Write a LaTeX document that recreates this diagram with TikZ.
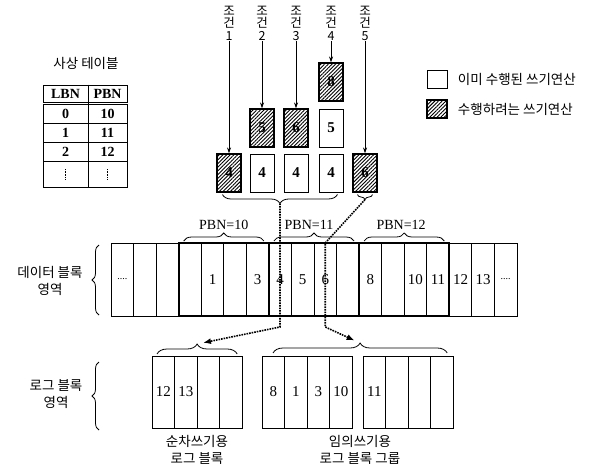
\documentclass[tikz,border=0pt]{standalone}
\usepackage{fontspec}
\setmainfont{Liberation Serif}
\newfontfamily\kr{Noto Sans CJK KR}
\usepackage{tikz}
\usetikzlibrary{arrows.meta,positioning,patterns.meta,decorations.pathreplacing}

\newcommand{\fourdots}{{\fontsize{10}{10}\selectfont ....}}

\tikzset{
  cell/.style={draw, line width=0.8pt, minimum width=22.55pt, minimum height=73pt,
    inner sep=0pt, outer sep=0pt, font=\fontsize{15}{15}\selectfont},
  logcell/.style={cell, minimum height=72pt},
  req/.style={draw, line width=0.9pt, minimum width=24pt, minimum height=38pt,
    inner sep=0pt, font=\bfseries\fontsize{15}{15}\selectfont},
  hatch/.style={req, line width=1.1pt, pattern={Lines[angle=45,distance=2.6pt,line width=0.9pt]}},
  tcell/.style={draw, line width=0.7pt, inner sep=0pt, minimum height=19pt,
    font=\bfseries\fontsize{14}{14}\selectfont},
  krtext/.style={font=\kr\fontsize{13.5}{16.5}\selectfont, align=center},
  cond/.style={font=\kr\fontsize{12.5}{12.5}\selectfont, align=center, inner sep=1pt},
  brc/.style={decorate, decoration={brace, amplitude=#1}, line width=0.8pt},
  brc/.default=8pt,
  dotarrow/.style={densely dotted, line width=1.6pt, -{Latex[length=8pt,width=6pt]}},
  reqarrow/.style={line width=0.8pt, -{Stealth[length=6pt,width=4pt]}},
}

\begin{document}
\begin{tikzpicture}[x=1pt, y=-1pt]
    \fill[white] (0,0) rectangle (601,466);
    \useasboundingbox (0,0) rectangle (601,466);

        % mapping table
        \node[krtext] (title) at (86,63) {사상 테이블};
        \node[tcell, minimum width=45pt, minimum height=17pt] (h1) at (65.5,93.5) {LBN};
        \node[tcell, minimum width=39pt, minimum height=17pt] (h2) at (107.5,93.5) {PBN};
        \foreach \l/\p/\y [count=\i] in {0/10/113.5, 1/11/132.5, 2/12/151.5} {
            \node[tcell, minimum width=45pt] (tl\i) at (65.5,\y) {\l};
            \node[tcell, minimum width=39pt] (tp\i) at (107.5,\y) {\p};
        }
        \node[tcell, minimum width=45pt, minimum height=26pt] (tl4) at (65.5,174) {};
        \node[tcell, minimum width=39pt, minimum height=26pt] (tp4) at (107.5,174) {};
        \draw[densely dotted, line width=0.6pt] ([yshift=5pt]tl4.center) -- ([yshift=-5pt]tl4.center);
        \draw[densely dotted, line width=0.6pt] ([yshift=5pt]tp4.center) -- ([yshift=-5pt]tp4.center);
        \draw[line width=1.3pt] (h1.north east) -- (tl4.south east);

        % legend
        \node[req, minimum width=20pt, minimum height=18pt] (lg1) at (437,79) {};
        \node[hatch, minimum width=20pt, minimum height=18pt] (lg2) at (437,109) {};
        \node[krtext, right=7pt of lg1] (lt1) {이미 수행된 쓰기연산};
        \node[krtext, right=7pt of lg2] (lt2) {수행하려는 쓰기연산};

        % write requests
        \foreach \n/\x in {1/229, 2/262, 3/296, 4/331, 5/365}
            \node[cond] (c\n) at (\x,23) {조\\건\\\n};
        \node[hatch] (w11) at (229,173) {4};
        \node[req]   (w21) at (262,173) {4};
        \node[req]   (w31) at (296,173) {4};
        \node[req]   (w41) at (331,173) {4};
        \node[hatch] (w51) at (365,173) {6};
        \node[hatch] (w22) at (262,128) {5};
        \node[hatch] (w32) at (296,128) {6};
        \node[req]   (w42) at (331,128) {5};
        \node[hatch] (w43) at (331,82) {8};

        \draw[reqarrow] (c1) -- (w11);
        \draw[reqarrow] (c2) -- (w22);
        \draw[reqarrow] (c3) -- (w32);
        \draw[reqarrow] (c4) -- (w43);
        \draw[reqarrow] (c5) -- (w51);

        \draw[brc=9pt] ([xshift=-6pt,yshift=-2pt]w41.south east) -- ([xshift=6pt,yshift=-2pt]w11.south west)
            coordinate[midway, yshift=-9pt] (t1);
        \draw[brc=5pt] ([xshift=-5pt,yshift=-2pt]w51.south east) -- ([xshift=5pt,yshift=-2pt]w51.south west)
            coordinate[midway, yshift=-5pt] (t2);

        % data block area
        \foreach \t [count=\i from 0] in {\fourdots,{},{},{},1,{},3,4,5,6,{},8,{},10,11,12,13,\fourdots}
            \node[cell] (d\i) at (122.3+22.55*\i,279.5) {\t};
        \draw[line width=1.8pt] (d3.north west) rectangle (d14.south east);
        \draw[line width=1.8pt] (d7.north west) -- (d7.south west) (d11.north west) -- (d11.south west);

        \draw[brc] ([xshift=5pt,yshift=2pt]d3.north west) -- ([xshift=-5pt,yshift=2pt]d6.north east)
            node[midway, above=8pt, font=\fontsize{14}{14}\selectfont] (p10) {PBN=10};
        \draw[brc] ([xshift=5pt,yshift=2pt]d7.north west) -- ([xshift=-5pt,yshift=2pt]d10.north east)
            node[midway, above=8pt, xshift=-5pt, font=\fontsize{14}{14}\selectfont] (p11) {PBN=11};
        \draw[brc] ([xshift=5pt,yshift=2pt]d11.north west) -- ([xshift=-5pt,yshift=2pt]d14.north east)
            node[midway, above=8pt, xshift=-3pt, font=\fontsize{14}{14}\selectfont] (p12) {PBN=12};

        \node[krtext] (dl) at (50,281) {데이터 블록\\영역};
        \draw[brc=7pt] (99,315) -- (99,245);

        % log block area
        \foreach \t/\x [count=\i] in {12/163.3,13/185.8,/208.4,/230.9,8/273.3,1/295.8,3/318.4,10/340.9,11/374.3,/396.8,/419.4,/441.9}
            \node[logcell] (l\i) at (\x,392) {\t};

        \draw[brc=10pt] ([xshift=5pt,yshift=2pt]l1.north west) -- ([xshift=-5pt,yshift=2pt]l4.north east)
            coordinate[midway, yshift=10pt] (s1);
        \draw[brc=10pt] ([xshift=11pt,yshift=3pt]l5.north west) -- ([xshift=-6pt,yshift=3pt]l12.north east)
            coordinate[midway, yshift=10pt] (s2);

        \node[krtext] (ll) at (56,394) {로그 블록\\영역};
        \draw[brc=7pt] (99,430) -- (99,362);

        \node[krtext] (sl) at (197,450) {순차쓰기용\\로그 블록};
        \node[krtext] (rl) at (360,450) {임의쓰기용\\로그 블록 그룹};

        % dotted moves
        \coordinate (m2) at (d9.north);
        \coordinate (m3) at ([yshift=-11pt]d9.south);
        \coordinate (m1) at (t1 |- m3);
        \draw[dotarrow, shorten >=6pt] (t1) -- (m1) -- (s1);
        \draw[dotarrow, shorten >=6pt] (t2) -- (m2) -- (m3) -- (s2);
\end{tikzpicture}
\end{document}
